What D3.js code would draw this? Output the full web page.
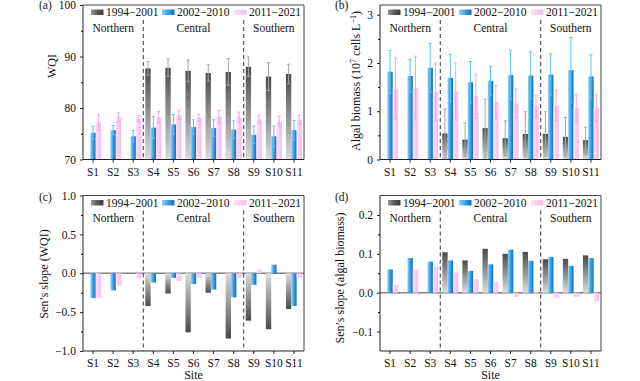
<!DOCTYPE html>
<html><head><meta charset="utf-8">
<script src="https://cdn.jsdelivr.net/npm/d3@7"></script>
<style>
body{margin:0;background:#fff}
svg{display:block}
text{font-family:"Liberation Serif","Times New Roman",serif;fill:#111}
</style>
</head><body>
<svg id="chart" width="640" height="381"></svg>
<script>
// ---------- data ----------
const sites = ["S1","S2","S3","S4","S5","S6","S7","S8","S9","S10","S11"];
const periods = ["1994\u22122001","2002\u22122010","2011\u22122021"];
const regions = ["Northern","Central","Southern"];
const regionStart = ["S1","S4","S9"];
const regionEnd = ["S3","S8","S11"];

// (a) WQI mean ± sd
const wqi1 = [null,null,null,87.7,87.8,87.2,86.8,87.0,88.0,86.1,86.6];
const wqi1Err = [null,null,null,1.3,1.7,2.1,1.6,2.6,1.9,2.7,1.9];
const wqi2 = [75.2,75.7,74.5,76.2,76.8,76.3,76.1,75.8,74.8,74.5,75.7];
const wqi2Err = [1.3,0.9,1.1,2.1,1.9,1.4,1.6,1.7,1.7,2.0,1.9];
const wqi3 = [77.2,78.2,77.9,78.2,78.6,78.1,78.3,78.2,77.8,77.4,77.7];
const wqi3Err = [1.5,0.9,0.6,1.1,0.9,0.7,1.3,1.0,0.8,1.0,0.9];

// (b) Algal biomass mean ± sd
const bio1 = [null,null,null,0.54,0.41,0.65,0.44,0.53,0.53,0.47,0.40];
const bio1Err = [null,null,null,0.51,0.35,0.60,0.36,0.46,0.46,0.40,0.27];
const bio2 = [1.82,1.73,1.90,1.69,1.60,1.63,1.75,1.74,1.76,1.85,1.72];
const bio2Err = [0.44,0.34,0.50,0.49,0.43,0.30,0.51,0.49,0.43,0.68,0.45];
const bio3 = [1.47,1.48,1.40,1.41,1.31,1.19,1.16,1.10,1.12,1.06,1.06];
const bio3Err = [0.63,0.66,0.60,0.59,0.46,0.34,0.30,0.23,0.32,0.28,0.28];

// (c) Sen's slope of WQI
const sWqi1 = [null,null,null,-0.42,-0.26,-0.76,-0.25,-0.84,-0.61,-0.72,-0.46];
const sWqi2 = [-0.32,-0.22,0,-0.12,-0.06,-0.14,-0.21,-0.31,-0.15,0.11,-0.42];
const sWqi3 = [-0.32,-0.16,-0.07,0,-0.10,-0.06,0,-0.06,0.05,0,-0.06];

// (d) Sen's slope of algal biomass
const sBio1 = [null,null,null,0.104,0.083,0.113,0.100,0.105,0.086,0.087,0.096];
const sBio2 = [0.060,0.089,0.080,0.083,0.056,0.073,0.111,0.082,0.092,0.069,0.089];
const sBio3 = [0.020,0.060,0.066,0.052,0.035,0.028,-0.011,0.003,-0.014,-0.011,-0.022];

// ---------- styles ----------
const errColors = ["#a6a6a6","#5cc3f5","#f5a3ea"];
const svg = d3.select("#chart");
const defs = svg.append("defs");
function lg(id, x2, y2, stops){
  const g = defs.append("linearGradient").attr("id",id)
    .attr("x1",0).attr("y1",0).attr("x2",x2).attr("y2",y2);
  stops.forEach(s=>g.append("stop").attr("offset",s[0]).attr("stop-color",s[1]));
}
lg("grayUp",0,1,[[0,"#4a4a4a"],[1,"#dcdcdc"]]);
lg("grayDown",0,1,[[0,"#dcdcdc"],[1,"#4a4a4a"]]);
lg("grayLeg",1,0,[[0,"#9a9a9a"],[0.5,"#5a5a5a"],[1,"#3a3a3a"]]);
lg("blue",1,0,[[0,"#8ad6f8"],[0.45,"#3ea6ea"],[1,"#1766bb"]]);
lg("pink",1,0,[[0,"#ffdff9"],[0.5,"#fbcdf4"],[1,"#f7bdee"]]);

function fillFor(k, v){
  if(k===0) return v>=0 ? "url(#grayUp)" : "url(#grayDown)";
  return k===1 ? "url(#blue)" : "url(#pink)";
}
const legFill = ["url(#grayLeg)","url(#blue)","url(#pink)"];

function panel(o){
  const g = svg.append("g");
  const x = d3.scaleBand().domain(sites).range([o.l,o.r]).paddingInner(0.2).paddingOuter(0.1);
  const xi = d3.scaleBand().domain([0,1,2]).range([0,x.bandwidth()]);
  const y = d3.scaleLinear().domain(o.dom).range([o.b,o.t]);
  const base = o.dom[0] > 0 ? o.dom[0] : 0;

  // zero line
  if(o.zero){
    g.append("line").attr("x1",o.l).attr("x2",o.r).attr("y1",y(0)).attr("y2",y(0))
      .attr("stroke","#7f7f7f").attr("stroke-width",1.5);
  }
  // bars
  o.series.forEach((vals,k)=>{
    const data = sites.map((s,i)=>({s, v:vals[i], e:o.errs?o.errs[k][i]:null})).filter(d=>d.v!==null);
    g.selectAll(null).data(data.filter(d=>d.v!==0)).enter().append("rect")
      .attr("x",d=>x(d.s)+xi(k))
      .attr("width",xi.bandwidth())
      .attr("y",d=>Math.min(y(d.v),y(base)))
      .attr("height",d=>Math.abs(y(d.v)-y(base)))
      .attr("fill",d=>fillFor(k,d.v));
    if(o.errs){
      const eg = g.selectAll(null).data(data).enter().append("g")
        .attr("stroke",errColors[k]).attr("stroke-width",1);
      const cx = d=>x(d.s)+xi(k)+xi.bandwidth()/2;
      eg.append("line").attr("x1",cx).attr("x2",cx)
        .attr("y1",d=>y(d.v-d.e)).attr("y2",d=>y(d.v+d.e));
      eg.append("line").attr("x1",d=>cx(d)-1.6).attr("x2",d=>cx(d)+1.6)
        .attr("y1",d=>y(d.v+d.e)).attr("y2",d=>y(d.v+d.e));
      eg.append("line").attr("x1",d=>cx(d)-1.6).attr("x2",d=>cx(d)+1.6)
        .attr("y1",d=>y(d.v-d.e)).attr("y2",d=>y(d.v-d.e));
    }
  });

  // region dividers
  [regionStart[1], regionStart[2]].forEach(s=>{
    const xv = x(s) - x.step()*x.paddingInner()/2;
    g.append("line").attr("x1",xv).attr("x2",xv).attr("y1",o.t+15).attr("y2",o.b)
      .attr("stroke","#333").attr("stroke-width",1).attr("stroke-dasharray","4,3");
  });
  // region labels
  regions.forEach((r,i)=>{
    const x0 = x(regionStart[i]) - x.step()*x.paddingInner()/2;
    const x1 = x(regionEnd[i]) + x.bandwidth() + x.step()*x.paddingInner()/2;
    g.append("text").attr("x",(x0+x1)/2).attr("y",o.t+26.5).attr("text-anchor","middle")
      .attr("font-size",11.5).text(r);
  });
  // legend
  const legX = [8,79,151];
  periods.forEach((p,k)=>{
    g.append("rect").attr("x",o.l+legX[k]).attr("y",o.t+4.5).attr("width",12.5).attr("height",5.5)
      .attr("fill",legFill[k]);
    g.append("text").attr("x",o.l+legX[k]+15).attr("y",o.t+11).attr("font-size",11.5).text(p);
  });

  // axes
  const ya = g.append("g").attr("transform",`translate(${o.l},0)`)
    .call(d3.axisLeft(y).tickValues(o.major).tickFormat(o.fmt).tickSizeOuter(0).tickSize(3).tickPadding(4));
  g.append("g").attr("transform",`translate(${o.l},0)`)
    .call(d3.axisLeft(y).tickValues(o.minor).tickFormat("").tickSizeOuter(0).tickSize(2))
    .call(a=>a.select(".domain").remove());
  const xa = g.append("g").attr("transform",`translate(0,${o.b})`)
    .call(d3.axisBottom(x).tickSizeOuter(0).tickSize(3).tickPadding(5));
  [ya,xa].forEach(a=>{
    a.selectAll("text").attr("font-size",11.5).attr("font-family","Liberation Serif").attr("fill","#111");
    a.selectAll("line,path").attr("stroke","#222");
  });
  // frame top/right
  g.append("path").attr("d",`M${o.l},${o.t}H${o.r}V${o.b}`).attr("fill","none").attr("stroke","#444").attr("stroke-width",1);
  xa.select(".domain").attr("d",`M${o.l},0H${o.r}`);
  ya.select(".domain").attr("d",`M0,${o.b}V${o.t}`);

  // panel label and titles
  g.append("text").attr("x",o.lab[0]).attr("y",o.lab[1]).attr("font-size",11.5).text(o.label);
  const yt = g.append("text").attr("transform",`translate(${o.yt[0]},${o.yt[1]}) rotate(-90)`)
    .attr("text-anchor","middle").attr("font-size",12);
  if(o.ytitleHtml) o.ytitleHtml(yt); else yt.text(o.ytitle);
  if(o.xtitle) g.append("text").attr("x",(o.l+o.r)/2).attr("y",o.b+28).attr("text-anchor","middle")
    .attr("font-size",12).text(o.xtitle);
}

panel({l:83,r:304,t:5,b:159.5,dom:[70,100],major:[70,80,90,100],minor:[75,85,95],fmt:d3.format("d"),
  series:[wqi1,wqi2,wqi3],errs:[wqi1Err,wqi2Err,wqi3Err],label:"(a)",lab:[39,9],
  ytitle:"WQI",yt:[56,66]});
panel({l:380,r:601,t:5,b:159.5,dom:[0,3.2],major:[0,1,2,3],minor:[0.5,1.5,2.5],fmt:d3.format("d"),
  series:[bio1,bio2,bio3],errs:[bio1Err,bio2Err,bio3Err],label:"(b)",lab:[335,9],
  yt:[360,81],ytitleHtml:t=>{
    t.append("tspan").text("Algal biomass (10");
    t.append("tspan").attr("font-size",8).attr("dy",-4).text("7");
    t.append("tspan").attr("dy",4).text(" cells L");
    t.append("tspan").attr("font-size",8).attr("dy",-4).text("\u22121");
    t.append("tspan").attr("dy",4).text(")");
  }});
panel({l:83,r:304,t:195.5,b:351,dom:[-1,1],major:[-1,-0.5,0,0.5,1],minor:[-0.75,-0.25,0.25,0.75],fmt:d3.format(".1f"),
  series:[sWqi1,sWqi2,sWqi3],errs:null,zero:true,label:"(c)",lab:[39,201],
  ytitle:"Sen\u2019s slope (WQI)",yt:[48,274],xtitle:"Site"});
panel({l:380,r:601,t:195.5,b:351,dom:[-0.15,0.25],major:[-0.1,0,0.1,0.2],minor:[-0.05,0.05,0.15],fmt:d3.format(".1f"),
  series:[sBio1,sBio2,sBio3],errs:null,zero:true,label:"(d)",lab:[335,201],
  ytitle:"Sen\u2019s slope (algal biomass)",yt:[344,278],xtitle:"Site"});
</script>
</body></html>
